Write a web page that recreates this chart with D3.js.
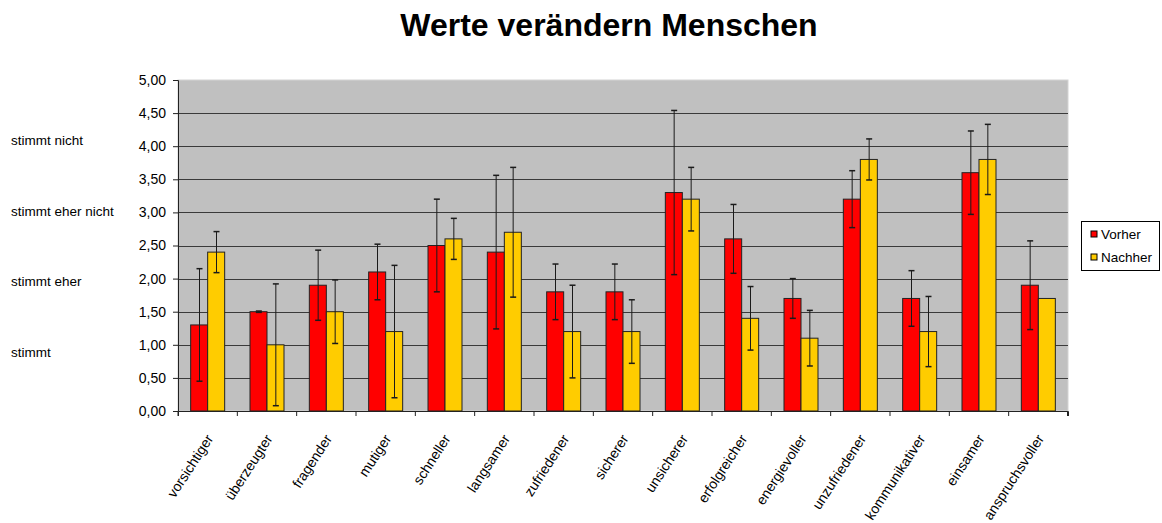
<!DOCTYPE html>
<meta charset="utf-8">
<style>
body { margin: 0; background: #fff; }
text { font-family: Arial, "Liberation Sans", sans-serif; }
.title { font-size: 32px; font-weight: bold; text-anchor: middle; }
.side { font-size: 13.5px; }
</style>
<svg width="1162" height="523"></svg>
<script src="https://cdn.jsdelivr.net/npm/d3@7"></script>
<script>

// data
var categories = ["vorsichtiger", "überzeugter", "fragender", "mutiger", "schneller", "langsamer",
  "zufriedener", "sicherer", "unsicherer", "erfolgreicher", "energievoller", "unzufriedener",
  "kommunikativer", "einsamer", "anspruchsvoller"];
var vorher     = [1.3, 1.5, 1.9, 2.1, 2.5, 2.4, 1.8, 1.8, 3.3, 2.6, 1.7, 3.2, 1.7, 3.6, 1.9];
var vorherErr  = [0.85, 0.01, 0.53, 0.42, 0.7, 1.16, 0.42, 0.42, 1.24, 0.52, 0.3, 0.43, 0.42, 0.63, 0.67];
var nachher    = [2.4, 1.0, 1.5, 1.2, 2.6, 2.7, 1.2, 1.2, 3.2, 1.4, 1.1, 3.8, 1.2, 3.8, 1.7];
var nachherErr = [0.31, 0.92, 0.48, 1.0, 0.31, 0.98, 0.7, 0.48, 0.48, 0.48, 0.42, 0.31, 0.53, 0.53, 0];
var seriesNames = ["Vorher", "Nachher"];
var seriesColors = ["#ff0000", "#ffcc00"];
var yTicks = [0, 0.5, 1, 1.5, 2, 2.5, 3, 3.5, 4, 4.5, 5];
var sideLabels = ["stimmt nicht", "stimmt eher nicht", "stimmt eher", "stimmt"];

var svg = d3.select("svg");
var plotLeft = 178, plotRight = 1068, plotTop = 80, plotBottom = 411;

var x = d3.scaleBand().domain(categories).range([plotLeft, plotRight]).paddingInner(0).paddingOuter(0);
var y = d3.scaleLinear().domain([0, 5]).range([plotBottom, plotTop]);
var inner = d3.scaleBand().domain(seriesNames).range([0, x.bandwidth()]).paddingInner(0).paddingOuter(0.745);

svg.append("text").attr("class", "title").attr("x", 609).attr("y", 36).text("Werte verändern Menschen");

// plot background
svg.append("rect")
    .attr("x", plotLeft).attr("y", plotTop)
    .attr("width", plotRight - plotLeft).attr("height", plotBottom - plotTop)
    .attr("fill", "#c0c0c0").attr("stroke", "#d4d4d4");

// gridlines
svg.append("g").selectAll("line")
  .data(yTicks.slice(1, -1))
  .enter().append("line")
    .attr("x1", plotLeft).attr("x2", plotRight)
    .attr("y1", function(d) { return Math.round(y(d)) + 0.5; })
    .attr("y2", function(d) { return Math.round(y(d)) + 0.5; })
    .attr("stroke", "#3a3a3a").attr("stroke-width", 1);

var rows = categories.map(function(c, i) {
  return [
    {cat: c, s: seriesNames[0], v: vorher[i], e: vorherErr[i], color: seriesColors[0]},
    {cat: c, s: seriesNames[1], v: nachher[i], e: nachherErr[i], color: seriesColors[1]}
  ];
});

var group = svg.append("g").selectAll("g")
  .data(rows)
  .enter().append("g")
    .attr("transform", function(d) { return "translate(" + x(d[0].cat) + ",0)"; });

var bars = group.selectAll("g")
  .data(function(d) { return d; })
  .enter().append("g");

bars.append("rect")
    .attr("x", function(d) { return inner(d.s); })
    .attr("y", function(d) { return y(d.v); })
    .attr("width", inner.bandwidth())
    .attr("height", function(d) { return y(0) - y(d.v); })
    .attr("fill", function(d) { return d.color; })
    .attr("stroke", "#222").attr("stroke-width", 1);

// error bars
var err = bars.filter(function(d) { return d.e > 0; });
function cx(d) { return Math.round(inner(d.s) + inner.bandwidth() / 2) + 0.5; }
err.append("line")
    .attr("x1", cx).attr("x2", cx)
    .attr("y1", function(d) { return y(d.v + d.e); })
    .attr("y2", function(d) { return y(d.v - d.e); })
    .attr("stroke", "#1a1a1a");
err.selectAll(".cap")
  .data(function(d) { return [d.v + d.e, d.v - d.e].map(function(v) { return {d: d, v: v}; }); })
  .enter().append("line")
    .attr("class", "cap")
    .attr("x1", function(c) { return cx(c.d) - 3; })
    .attr("x2", function(c) { return cx(c.d) + 3; })
    .attr("y1", function(c) { return y(c.v); })
    .attr("y2", function(c) { return y(c.v); })
    .attr("stroke", "#1a1a1a").attr("stroke-width", 1.5);

// axes
var yAxis = svg.append("g")
    .attr("transform", "translate(" + plotLeft + ",0)")
    .call(d3.axisLeft(y).tickValues(yTicks).tickSize(5).tickPadding(7)
      .tickFormat(function(d) { return d3.format(".2f")(d).replace(".", ","); }));
yAxis.select(".domain").attr("stroke", "#222");
yAxis.selectAll(".tick line").attr("stroke", "#222");
yAxis.selectAll("text").attr("fill", "#000").style("font-size", "14px")
    .style("font-family", "Arial, 'Liberation Sans', sans-serif");

var xAxis = svg.append("g")
    .attr("transform", "translate(0," + plotBottom + ")")
    .call(d3.axisBottom(x).tickSize(5).tickSizeOuter(5));
xAxis.select(".domain").attr("stroke", "#222");
xAxis.selectAll(".tick line").attr("stroke", "#222")
    .attr("transform", "translate(" + (-x.bandwidth() / 2) + ",0)");
xAxis.append("line")
    .attr("x1", plotRight - 0.5).attr("x2", plotRight - 0.5).attr("y1", 0).attr("y2", 5).attr("stroke", "#222");
xAxis.selectAll(".tick text")
    .attr("fill", "#000")
    .style("font-size", "14px")
    .style("font-family", "Arial, 'Liberation Sans', sans-serif")
    .style("text-anchor", "end")
    .attr("dy", "0.35em")
    .attr("transform", "translate(2,25) rotate(-57)")
    .attr("y", 0).attr("x", 0);

// side annotations
svg.append("g").selectAll("text")
  .data(sideLabels)
  .enter().append("text")
    .attr("class", "side")
    .attr("x", 11)
    .attr("y", function(d, i) { return 145 + i * 70.5; })
    .text(function(d) { return d; });

// legend
var legend = svg.append("g").attr("transform", "translate(1081.5,221.5)");
legend.append("rect").attr("width", 78).attr("height", 49).attr("fill", "#fff").attr("stroke", "#000");
var li = legend.selectAll("g.item")
  .data(seriesNames)
  .enter().append("g")
    .attr("class", "item")
    .attr("transform", function(d, i) { return "translate(9.5," + (9.5 + i * 23) + ")"; });
li.append("rect").attr("width", 6).attr("height", 6)
    .attr("fill", function(d, i) { return seriesColors[i]; })
    .attr("stroke", "#000");
li.append("text").attr("x", 10).attr("y", 8).style("font-size", "13.5px").text(function(d) { return d; });

</script>
